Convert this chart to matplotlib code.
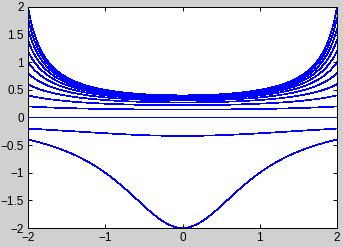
import numpy as np
import matplotlib
matplotlib.use("Agg")
import matplotlib.pyplot as plt

# Solutions of y' = x*y^2, labelled by their value at the left edge x = -2
start_values = [-0.4, -0.2, 0.0, 0.2, 0.4, 0.6, 0.8, 1.0, 1.2, 1.4, 1.6, 1.8, 2.0]
x_range = [-2, 2]
y_range = [-2, 2]
x_ticks = [-2, -1, 0, 1, 2]
y_ticks = [-2, -1.5, -1, -0.5, 0, 0.5, 1, 1.5, 2]
x_tick_labels = ["\u22122", "\u22121", "0", "1", "2"]
y_tick_labels = ["\u22122", "\u22121.5", "\u22121", "\u22120.5", "0", "0.5", "1", "1.5", "2"]

plt.rcParams['font.family'] = ['Liberation Sans', 'DejaVu Sans']

fig = plt.figure(figsize=(3.43, 2.47), dpi=100, facecolor='#d0d0d0')
ax = fig.add_axes([28/343, 19/247, 309/343, 221/247])
ax.set_facecolor('white')

x = np.linspace(x_range[0], x_range[1], 801)
for y0 in start_values:
    if y0 == 0:
        y = np.zeros_like(x)
    else:
        C = x_range[0]**2 + 2.0 / y0
        y = 2.0 / (C - x**2)
    ax.plot(x, y, color='#0000ff', lw=0.5, antialiased=False)

ax.set_xlim(*x_range)
ax.set_ylim(*y_range)
ax.set_xticks(x_ticks)
ax.set_xticklabels(x_tick_labels)
ax.set_yticks(y_ticks)
ax.set_yticklabels(y_tick_labels)
ax.tick_params(direction='in', length=3, width=0.7, top=True, right=True,
               labelsize=8.5, pad=3, colors='black')
for s in ax.spines.values():
    s.set_linewidth(0.7)
    s.set_color('black')

fig.savefig('out.png', dpi=100, facecolor=fig.get_facecolor())
